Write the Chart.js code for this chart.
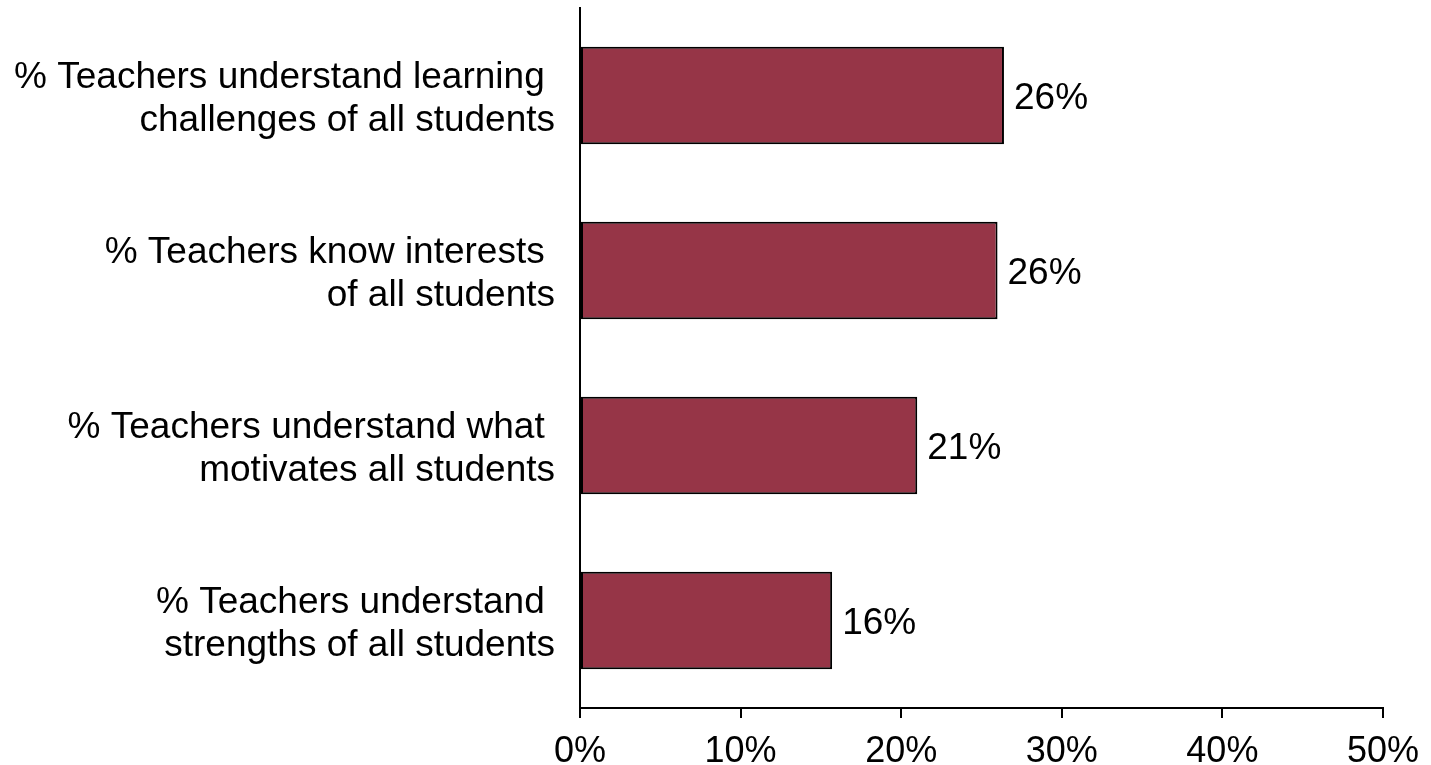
<!DOCTYPE html>
<html>
<head>
<meta charset="utf-8">
<script src="https://cdn.jsdelivr.net/npm/chart.js@4"></script>
<style>
  html, body { margin: 0; padding: 0; background: #fff; }
  #wrap { width: 1431px; height: 765px; }
</style>
</head>
<body>
<div id="wrap"><canvas id="chart"></canvas></div>
<script>
// categories (each one is split over two lines)
let categories = [
    ['% Teachers understand learning ', 'challenges of all students'],
    ['% Teachers know interests ', 'of all students'],
    ['% Teachers understand what ', 'motivates all students'],
    ['% Teachers understand ', 'strengths of all students']
];
// share of respondents, in percent
let values = [26.4, 26.0, 21.0, 15.7];
let xTicks = [0, 10, 20, 30, 40, 50];

const FONT = 'Liberation Sans, Arial, sans-serif';

// writes the rounded value just past the end of each bar
const valueLabels = {
    id: 'valueLabels',
    afterDatasetsDraw(chart) {
        const ctx = chart.ctx;
        const meta = chart.getDatasetMeta(0);
        ctx.save();
        ctx.font = '37px ' + FONT;
        ctx.fillStyle = '#000';
        ctx.textAlign = 'left';
        ctx.textBaseline = 'middle';
        meta.data.forEach((bar, i) => {
            ctx.fillText(Math.round(values[i]) + '%', bar.x + 10, bar.y + 3);
        });
        ctx.restore();
    }
};

function createChart() {
    const ctx = document.getElementById('chart');

    new Chart(ctx, {
        type: 'bar',
        data: {
            labels: categories,
            datasets: [{
                data: values,
                backgroundColor: '#963547',
                borderColor: '#000',
                borderWidth: 2,
                borderSkipped: false,
                barPercentage: 0.556,
                categoryPercentage: 1
            }]
        },
        options: {
            indexAxis: 'y',
            responsive: true,
            maintainAspectRatio: false,
            animation: false,
            layout: { padding: { top: 8, right: 47, bottom: 0, left: 0 } },
            plugins: {
                legend: { display: false },
                tooltip: { enabled: false }
            },
            scales: {
                x: {
                    min: 0,
                    max: 50,
                    afterBuildTicks(scale) {
                        scale.ticks = xTicks.map(v => ({ value: v }));
                    },
                    afterFit(scale) { scale.height = 57; },
                    grid: {
                        drawOnChartArea: false,
                        drawTicks: true,
                        tickLength: 10,
                        color: '#000',
                        lineWidth: 2
                    },
                    border: { color: '#000', width: 2 },
                    ticks: {
                        color: '#000',
                        padding: 12,
                        maxRotation: 0,
                        font: { family: FONT, size: 36 },
                        callback: v => v + '%'
                    }
                },
                y: {
                    afterFit(scale) {
                        scale.width = 580;
                        scale.paddingTop = 0;
                        scale.paddingBottom = 0;
                    },
                    grid: { display: false, drawTicks: false },
                    border: { color: '#000', width: 2 },
                    ticks: {
                        color: '#000',
                        padding: 25,
                        labelOffset: 4,
                        font: { family: FONT, size: 37, lineHeight: 1.17 }
                    }
                }
            }
        },
        plugins: [valueLabels]
    });
}

createChart();
</script>
</body>
</html>
